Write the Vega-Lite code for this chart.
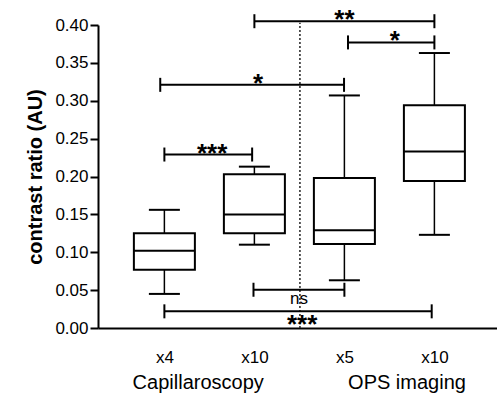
{
  "$schema": "https://vega.github.io/schema/vega-lite/v6.json",
  "width": 399,
  "height": 303,
  "autosize": "none",
  "padding": {"left": 98, "top": 25, "right": 0, "bottom": 66},
  "background": "white",
  "config": {
    "view": {"stroke": null},
    "font": "Liberation Sans",
    "axis": {"grid": false, "domainColor": "black", "tickColor": "black", "labelColor": "black", "titleColor": "black", "labelFont": "Liberation Sans", "titleFont": "Liberation Sans"},
    "axisY": {"labelFontSize": 17, "labelPadding": 2, "tickSize": 8, "tickWidth": 2, "domainWidth": 2, "labelOverlap": false}
  },
  "datasets": {
    "boxes": [
      {"pos": 1, "low": 0.045, "q1": 0.077, "med": 0.102, "q3": 0.125, "high": 0.156},
      {"pos": 2, "low": 0.110, "q1": 0.125, "med": 0.150, "q3": 0.203, "high": 0.213},
      {"pos": 3, "low": 0.063, "q1": 0.111, "med": 0.129, "q3": 0.198, "high": 0.307},
      {"pos": 4, "low": 0.123, "q1": 0.194, "med": 0.233, "q3": 0.294, "high": 0.363}
    ],
    "sig": [
      {"x1": 2.0, "x2": 4.0, "y": 0.405, "tx": 3.0, "label": "**", "kind": "above"},
      {"x1": 3.04, "x2": 4.0, "y": 0.377, "tx": 3.56, "label": "*", "kind": "above"},
      {"x1": 0.954, "x2": 2.996, "y": 0.321, "tx": 2.04, "label": "*", "kind": "above"},
      {"x1": 1.0, "x2": 1.975, "y": 0.229, "tx": 1.53, "label": "***", "kind": "above"},
      {"x1": 1.99, "x2": 3.0, "y": 0.0505, "tx": 2.495, "label": "ns", "kind": "ns"},
      {"x1": 1.0, "x2": 3.97, "y": 0.022, "tx": 2.53, "label": "***", "kind": "below"}
    ],
    "sep": [{"sx": 2.506, "y0": 0, "y1": 0.403}]
  },
  "resolve": {"axis": {"x": "independent"}},
  "layer": [
    {
      "data": {"name": "boxes"},
      "mark": {"type": "rule", "color": "black", "strokeWidth": 1.5},
      "encoding": {
        "x": {"field": "pos", "type": "quantitative", "scale": {"domain": [0.318, 4.64], "nice": false, "zero": false},
          "axis": {"orient": "bottom", "values": [1, 2, 3, 4], "labelExpr": "datum.value == 1 ? 'x4' : datum.value == 3 ? 'x5' : 'x10'", "ticks": false, "domainWidth": 2, "labelFontSize": 17, "labelPadding": 21, "title": null}},
        "y": {"field": "low", "type": "quantitative", "scale": {"domain": [0, 0.4], "nice": false},
          "axis": {"title": "contrast ratio (AU)", "titleFontSize": 20, "titleFontWeight": "bold", "titlePadding": 9, "tickCount": 9, "values": [0, 0.05, 0.1, 0.15, 0.2, 0.25, 0.3, 0.35, 0.4], "format": ".2f", "labelOverlap": false}},
        "y2": {"field": "high"}
      }
    },
    {
      "data": {"name": "sep"},
      "mark": {"type": "rule", "color": "#222", "strokeWidth": 1.5, "strokeDash": [2, 2]},
      "encoding": {
        "x": {"field": "sx", "type": "quantitative",
          "axis": {"orient": "bottom", "values": [1.37, 3.69], "labelExpr": "datum.value < 2.5 ? 'Capillaroscopy' : 'OPS imaging'", "domain": false, "ticks": false, "labelFontSize": 20, "labelPadding": 44, "title": null}},
        "y": {"field": "y0", "type": "quantitative"},
        "y2": {"field": "y1"}
      }
    },
    {
      "data": {"name": "boxes"},
      "mark": {"type": "bar", "size": 61, "fill": "white", "stroke": "black", "strokeWidth": 2},
      "encoding": {
        "x": {"field": "pos", "type": "quantitative", "axis": null},
        "y": {"field": "q1", "type": "quantitative"},
        "y2": {"field": "q3"}
      }
    },
    {
      "data": {"name": "boxes"},
      "mark": {"type": "tick", "orient": "horizontal", "size": 61, "thickness": 2, "color": "black", "opacity": 1},
      "encoding": {
        "x": {"field": "pos", "type": "quantitative", "axis": null},
        "y": {"field": "med", "type": "quantitative"}
      }
    },
    {
      "data": {"name": "boxes"},
      "mark": {"type": "tick", "orient": "horizontal", "size": 31, "thickness": 2, "color": "black", "opacity": 1},
      "encoding": {
        "x": {"field": "pos", "type": "quantitative", "axis": null},
        "y": {"field": "low", "type": "quantitative"}
      }
    },
    {
      "data": {"name": "boxes"},
      "mark": {"type": "tick", "orient": "horizontal", "size": 31, "thickness": 2, "color": "black", "opacity": 1},
      "encoding": {
        "x": {"field": "pos", "type": "quantitative", "axis": null},
        "y": {"field": "high", "type": "quantitative"}
      }
    },
    {
      "data": {"name": "sig"},
      "mark": {"type": "rule", "color": "black", "strokeWidth": 2},
      "encoding": {
        "x": {"field": "x1", "type": "quantitative", "axis": null},
        "x2": {"field": "x2"},
        "y": {"field": "y", "type": "quantitative"}
      }
    },
    {
      "data": {"name": "sig"},
      "mark": {"type": "tick", "orient": "vertical", "size": 14, "thickness": 2, "color": "black", "opacity": 1},
      "encoding": {
        "x": {"field": "x1", "type": "quantitative", "axis": null},
        "y": {"field": "y", "type": "quantitative"}
      }
    },
    {
      "data": {"name": "sig"},
      "mark": {"type": "tick", "orient": "vertical", "size": 14, "thickness": 2, "color": "black", "opacity": 1},
      "encoding": {
        "x": {"field": "x2", "type": "quantitative", "axis": null},
        "y": {"field": "y", "type": "quantitative"}
      }
    },
    {
      "data": {"name": "sig"},
      "transform": [{"filter": "datum.kind == 'above'"}],
      "mark": {"type": "text", "font": "Liberation Sans", "fontWeight": "bold", "fontSize": 26, "baseline": "alphabetic", "align": "center", "dy": 7, "color": "black"},
      "encoding": {
        "x": {"field": "tx", "type": "quantitative", "axis": null},
        "y": {"field": "y", "type": "quantitative"},
        "text": {"field": "label"}
      }
    },
    {
      "data": {"name": "sig"},
      "transform": [{"filter": "datum.kind == 'below'"}],
      "mark": {"type": "text", "font": "Liberation Sans", "fontWeight": "bold", "fontSize": 26, "baseline": "alphabetic", "align": "center", "dy": 22, "color": "black"},
      "encoding": {
        "x": {"field": "tx", "type": "quantitative", "axis": null},
        "y": {"field": "y", "type": "quantitative"},
        "text": {"field": "label"}
      }
    },
    {
      "data": {"name": "sig"},
      "transform": [{"filter": "datum.kind == 'ns'"}],
      "mark": {"type": "text", "font": "Liberation Sans", "fontSize": 17, "baseline": "alphabetic", "align": "center", "dy": 14, "color": "black"},
      "encoding": {
        "x": {"field": "tx", "type": "quantitative", "axis": null},
        "y": {"field": "y", "type": "quantitative"},
        "text": {"field": "label"}
      }
    }
  ]
}
